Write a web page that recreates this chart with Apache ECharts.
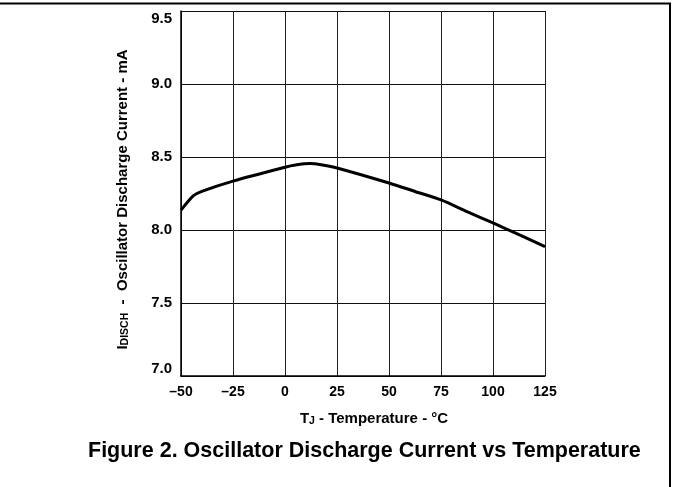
<!DOCTYPE html>
<html>
<head>
<meta charset="utf-8">
<script src="https://cdn.jsdelivr.net/npm/echarts@6/dist/echarts.min.js"></script>
<style>
  html, body { margin: 0; padding: 0; background: #fff; }
  #chart { width: 673px; height: 487px; }
</style>
</head>
<body>
<div id="chart"></div>
<script>
// temperature (°C) and discharge current (mA)
const tempC = [-50, -44, -40, -25, 0, 5, 12, 18, 25, 50, 62.5, 75, 87.5, 100, 112.5, 125];
const iDisch = [8.136, 8.235, 8.265, 8.335, 8.43, 8.445, 8.455, 8.445, 8.425, 8.322, 8.264, 8.206, 8.126, 8.048, 7.968, 7.886];

const xMin = -50, xMax = 125, xStep = 25;
const yMin = 7.0, yMax = 9.5, yStep = 0.5;

const titleText = 'Figure 2. Oscillator Discharge Current vs Temperature';
const font = 'Liberation Sans, Arial, Helvetica, sans-serif';

const chartDom = document.getElementById('chart');
const chart = echarts.init(chartDom);

const points = tempC.map((t, i) => [t, iDisch[i]]);

const option = {
  backgroundColor: '#fff',
  animation: false,
  title: {
    text: titleText,
    left: 83,
    top: 435,
    textStyle: { fontFamily: font, fontSize: 21.5, fontWeight: 'bold', color: '#000' }
  },
  grid: { left: 181, right: 128, top: 11, bottom: 111, containLabel: false },
  xAxis: {
    type: 'value',
    min: xMin,
    max: xMax,
    interval: xStep,
    name: '{t|T}{s|J}{t| - Temperature - °C}',
    nameLocation: 'middle',
    nameGap: 34,
    nameTextStyle: {
      padding: [0, 0, 0, 22],
      rich: {
        t: { fontFamily: font, fontSize: 15, fontWeight: 'bold', color: '#000' },
        s: { fontFamily: font, fontSize: 10.5, fontWeight: 'bold', color: '#000', padding: [6, 0, 0, 0] }
      }
    },
    axisLine: { show: true, onZero: false, lineStyle: { color: '#000', width: 1.5 } },
    axisTick: { show: false },
    splitLine: { show: true, lineStyle: { color: '#222', width: 1 } },
    axisLabel: {
      margin: 9,
      fontFamily: font,
      fontSize: 14,
      fontWeight: 'bold',
      color: '#000',
      formatter: v => String(v).replace('-', '\u2013')
    }
  },
  yAxis: {
    type: 'value',
    min: yMin,
    max: yMax,
    interval: yStep,
    name: '{t|I}{s|DISCH}{t|  -  Oscillator Discharge Current - mA}',
    nameLocation: 'middle',
    nameGap: 50,
    nameTextStyle: {
      padding: [0, 12, 0, 0],
      rich: {
        t: { fontFamily: font, fontSize: 15, fontWeight: 'bold', color: '#000' },
        s: { fontFamily: font, fontSize: 10.5, fontWeight: 'bold', color: '#000', padding: [6, 0, 0, 0] }
      }
    },
    axisLine: { show: true, onZero: false, lineStyle: { color: '#000', width: 1.5 } },
    axisTick: { show: false },
    splitLine: { show: true, lineStyle: { color: '#111', width: 1 } },
    axisLabel: {
      margin: 9,
      fontFamily: font,
      fontSize: 15,
      fontWeight: 'bold',
      color: '#000',
      verticalAlignMaxLabel: 'top',
      verticalAlignMinLabel: 'bottom',
      formatter: v => v.toFixed(1)
    }
  },
  graphic: [
    {
      type: 'polyline',
      shape: { points: [[0, 3.5], [670, 3.5], [670, 487]] },
      style: { stroke: '#000', lineWidth: 2, fill: null },
      z: 100
    }
  ],
  series: [
    {
      type: 'line',
      data: points,
      smooth: 0.25,
      showSymbol: false,
      lineStyle: { color: '#000', width: 3 },
      z: 10
    }
  ]
};

chart.setOption(option);
window.addEventListener('resize', () => {
  chart.resize();
});
</script>
</body>
</html>
